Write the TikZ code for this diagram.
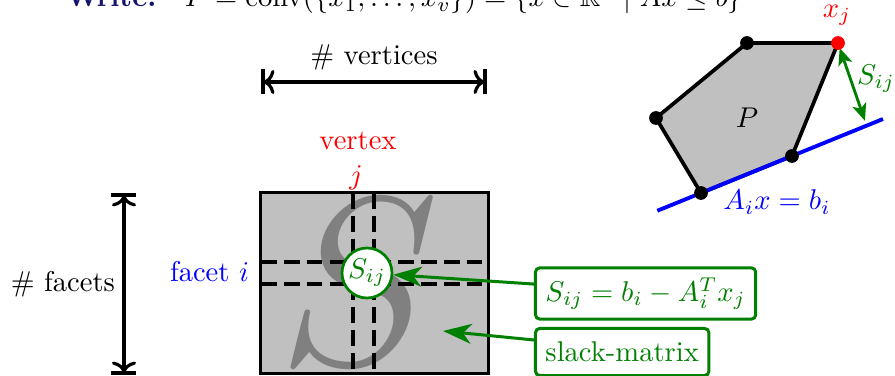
\documentclass[tikz,border=0pt]{standalone}
\usepackage{graphicx}
\usepackage{amssymb}
\usetikzlibrary{arrows.meta,calc}
\definecolor{silverg}{RGB}{192,192,192}
\definecolor{darkg}{RGB}{0,128,0}
\definecolor{navyw}{RGB}{20,20,110}
\begin{document}
\begin{tikzpicture}[x=0.35pt,y=-0.35pt,
  blk/.style={line width=1.2pt},
  dim/.style={line width=1.1pt,<->},
  dsh/.style={line width=1.15pt,dash pattern=on 5.5pt off 2.5pt},
  gbox/.style={draw=darkg,line width=1.05pt,rounded corners=1.5pt,fill=white,text=darkg,inner xsep=3.5pt,minimum height=16.5pt,anchor=west},
  garrow/.style={draw=darkg,line width=1.05pt,-{Stealth[length=10pt,width=7pt,inset=3pt]}},
  vdot/.style={circle,fill=black,inner sep=0pt,minimum size=4.8pt},
]
\useasboundingbox (0,0) rectangle (895,376);
% title (cut off at top)
\node[anchor=base west,inner sep=0pt] (title) at (65,7) {\textcolor{navyw}{\textbf{Write:}}\quad $P=\mathrm{conv}(\{x_1,\dots,x_v\})=\{x\in\mathbb{R}^n\mid Ax\le b\}$};

% slack matrix
\node[fill=silverg,minimum width=79.45pt,minimum height=63pt,inner sep=0pt] (mat) at (374.5,283) {};
\node[text=black!50,inner sep=0pt] (bigS) at (359,283) {\scalebox{8.4}{$S$}};
\draw[dsh] (353,193) -- (353,373);
\draw[dsh] (374,193) -- (374,373);
\draw[dsh] (261,262) -- (488,262);
\draw[dsh] (261,284) -- (488,284);
\draw[blk] (mat.south west) rectangle (mat.north east);
\node[circle,draw=darkg,line width=0.95pt,fill=white,text=darkg,minimum size=17.5pt,inner sep=0pt] (sij) at (367,273) {$S_{ij}$};

\node[text=red] (vtx) at (358,141) {vertex};
\node[text=red] (vj) at (356,178) {$j$};
\node[text=blue,anchor=east] (fct) at (259,272) {facet $i$};

% dimension arrows
\coordinate (vtop) at (124,195);
\coordinate (vbot) at (124,373);
\draw[dim] (vtop) -- (vbot);
\draw[line width=1.4pt] ($(vtop)+(-12.5,0)$) -- ($(vtop)+(12.5,0)$);
\draw[line width=1.4pt] ($(vbot)+(-12.5,0)$) -- ($(vbot)+(12.5,0)$);
\node[anchor=east] (nf) at (125,284) {\# facets};

\coordinate (hl) at (263,82);
\coordinate (hr) at (485,82);
\draw[dim] (hl) -- (hr);
\draw[line width=1.4pt] ($(hl)+(0,-12.5)$) -- ($(hl)+(0,12.5)$);
\draw[line width=1.4pt] ($(hr)+(0,-12.5)$) -- ($(hr)+(0,12.5)$);
\node (nv) at (374,57) {\# vertices};

% polytope
\coordinate (p1) at (747,43);
\coordinate (p2) at (838,43);
\coordinate (p3) at (792,156);
\coordinate (p4) at (701,193);
\coordinate (p5) at (656,118);
\draw[line width=1.3pt,fill=silverg,line join=round] (p1) -- (p2) -- (p3) -- (p4) -- (p5) -- cycle;
\coordinate (bl) at ($(p4)!-0.48!(p3)$);
\coordinate (br) at ($(p4)!2!(p3)$);
\draw[blue,line width=1.35pt] (bl) -- (br);
\coordinate (foot) at ($(p4)!1.82!(p3)$);
\draw[darkg,line width=1pt,{Stealth[length=6pt,width=5pt,inset=1.5pt]}-{Stealth[length=6pt,width=5pt,inset=1.5pt]},shorten <=1.8pt,shorten >=1.8pt] (p2) -- (foot);
\node[vdot] (d1) at (p1) {};
\node[vdot,fill=red] (d2) at (p2) {};
\node[vdot] (d3) at (p3) {};
\node[vdot] (d4) at (p4) {};
\node[vdot] (d5) at (p5) {};
\node (lp) at (747,118) {$P$};
\node[text=red] (lx) at (837,15) {$x_j$};
\node[text=darkg] (ls) at (876,79) {$S_{ij}$};
\node[text=blue] (la) at (777,202) {$A_ix=b_i$};

% green boxes
\node[gbox] (eq) at (534,293.5) {$S_{ij}=b_i-A_i^Tx_j$};
\node[gbox] (sm) at (534,352) {slack-matrix};
\coordinate (tipS) at (443,331);
\draw[garrow] ([yshift=3.3pt]eq.west) -- (sij);
\draw[garrow] ([yshift=4.2pt]sm.west) -- (tipS);
\end{tikzpicture}
\end{document}
